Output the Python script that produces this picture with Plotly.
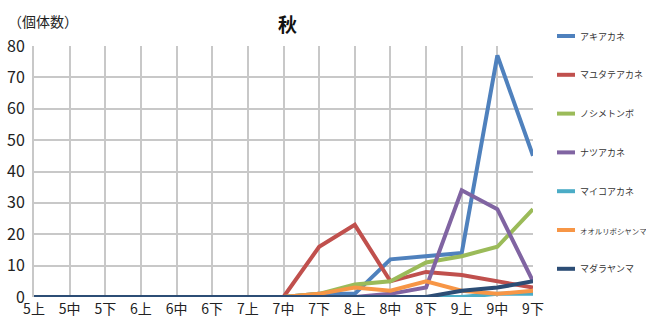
import plotly.graph_objects as go

# Ten-day periods (上 = early, 中 = mid, 下 = late) from May to September
periods = ["5上", "5中", "5下", "6上", "6中", "6下", "7上", "7中",
           "7下", "8上", "8中", "8下", "9上", "9中", "9下"]

akiakane       = [0, 0, 0, 0, 0, 0, 0, 0, 1, 1, 12, 13, 14, 77, 45]
mayutateakane  = [0, 0, 0, 0, 0, 0, 0, 0, 16, 23, 5, 8, 7, 5, 3]
noshimetonbo   = [0, 0, 0, 0, 0, 0, 0, 0, 1, 4, 5, 11, 13, 16, 28]
natsuakane     = [0, 0, 0, 0, 0, 0, 0, 0, 0, 0, 1, 3, 34, 28, 5]
maikoakane     = [0, 0, 0, 0, 0, 0, 0, 0, 0, 0, 0, 0, 0, 1, 1]
ooruriboshi    = [0, 0, 0, 0, 0, 0, 0, 0, 1, 3, 2, 5, 2, 1, 2]
madarayanma    = [0, 0, 0, 0, 0, 0, 0, 0, 0, 0, 0, 0, 2, 3, 5]

species = ["アキアカネ", "マユタテアカネ", "ノシメトンボ", "ナツアカネ",
           "マイコアカネ", "オオルリボシヤンマ", "マダラヤンマ"]
series = [akiakane, mayutateakane, noshimetonbo, natsuakane,
          maikoakane, ooruriboshi, madarayanma]
colors = ["#4F81BD", "#C0504D", "#9BBB59", "#8064A2",
          "#4BACC6", "#F79646", "#2C4D75"]

FONT = "Noto Sans CJK JP"
W, H = 646, 324
L, R, T, B = 34, 533, 46, 297   # plot area in pixels

fig = go.Figure()
for name, vals, col in zip(species, series, colors):
    fig.add_trace(go.Scatter(x=periods, y=vals, name=name, mode="lines",
                             line=dict(color=col, width=4),
                             showlegend=False))


def px_x(p):
    return (p - L) / (R - L)


def px_y(p):
    return (B - p) / (B - T)


# Hand-placed legend column on the right
shapes, annotations = [], []
for i, (name, col) in enumerate(zip(species, colors)):
    yc = 36 + 38.8 * i
    size = 9 if len(name) <= 7 else 7.4   # keep the long name inside the page
    shapes.append(dict(type="line", xref="paper", yref="paper",
                       x0=px_x(557), x1=px_x(575), y0=px_y(yc), y1=px_y(yc),
                       line=dict(color=col, width=4)))
    annotations.append(dict(text=name, xref="paper", yref="paper",
                            x=px_x(578), y=px_y(yc), xanchor="left",
                            yanchor="middle", showarrow=False,
                            font=dict(family=FONT, size=size, color="#333333")))

annotations.append(dict(text="（個体数）", xref="paper", yref="paper",
                        x=px_x(6), y=px_y(21), xanchor="left", yanchor="middle",
                        showarrow=False,
                        font=dict(family=FONT, size=14, color="#222222")))
annotations.append(dict(text="<b>秋</b>", xref="paper", yref="paper",
                        x=px_x(287), y=px_y(23), xanchor="center",
                        yanchor="middle", showarrow=False,
                        font=dict(family=FONT, size=19, color="#111111")))

fig.update_layout(
    width=W, height=H,
    margin=dict(l=L, r=W - R, t=T, b=H - B, pad=0, autoexpand=False),
    paper_bgcolor="white", plot_bgcolor="white",
    font=dict(family=FONT, size=14, color="#222222"),
    shapes=shapes, annotations=annotations,
)
fig.update_xaxes(type="category", range=[0, len(periods) - 1],
                 automargin=False,
                 showgrid=True, gridcolor="#C8C8C8", gridwidth=2,
                 showline=False, zeroline=False, ticks="",
                 tickfont=dict(family=FONT, size=14, color="#222222"),
                 ticklabelstandoff=2)
fig.update_yaxes(range=[0, 80], dtick=10, showgrid=True, automargin=False,
                 gridcolor="#C8C8C8", gridwidth=2,
                 showline=True, linecolor="#C8C8C8", linewidth=2,
                 zeroline=False, ticks="",
                 tickfont=dict(family=FONT, size=16, color="#222222"),
                 ticklabelstandoff=4)

fig.write_html("out.html")
